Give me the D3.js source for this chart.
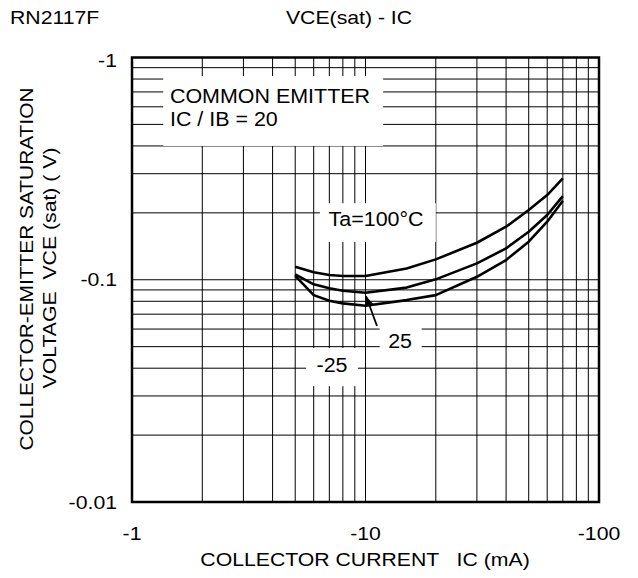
<!DOCTYPE html>
<html>
<head>
<meta charset="utf-8">
<script src="https://cdn.jsdelivr.net/npm/d3@7"></script>
<style>
  body { margin: 0; background: #fff; }
  svg { display: block; font-family: "Liberation Sans", Arial, sans-serif; }
  text { white-space: pre; fill: #000; }
</style>
</head>
<body>
<svg id="chart" width="638" height="578"></svg>
<script>
// ---- data (IC in mA, VCE(sat) in V; both negative for PNP) ----
const currents = [-5, -6, -7, -8, -10, -15, -20, -30, -40, -50, -60, -70];
const vce100 = [-0.1144, -0.1080, -0.1050, -0.1039, -0.1039, -0.1123, -0.1235, -0.1467, -0.1732, -0.2059, -0.2405, -0.2860];
const vce25  = [-0.1057, -0.0954, -0.0915, -0.0892, -0.0874, -0.0922, -0.1004, -0.1185, -0.1384, -0.1644, -0.1955, -0.2380];
const vceM25 = [-0.1042, -0.0853, -0.0804, -0.0783, -0.0764, -0.0810, -0.0853, -0.1031, -0.1227, -0.1483, -0.1824, -0.2267];
const seriesNames = ["Ta=100°C", "25", "-25"];

const xTickValues = [-1, -10, -100];
const xTickLabels = ["-1", "-10", "-100"];
const yTickValues = [-0.01, -0.1, -1];
const yTickLabels = ["-0.01", "-0.1", "-1"];

const titleLeft = "RN2117F";
const titleCenter = "VCE(sat) - IC";
const xTitle = "COLLECTOR CURRENT   IC (mA)";
const yTitle1 = "COLLECTOR-EMITTER SATURATION";
const yTitle2 = "VOLTAGE  VCE (sat) ( V)";

(function () {
// ---- layout ----
const svg = d3.select("#chart");
const pL = 132, pR = 599, pT = 57.5, pB = 502;
const x = d3.scaleLog().domain([-1, -100]).range([pL, pR]);
const y = d3.scaleLog().domain([-0.01, -1]).range([pB, pT]);

// text helper with slight horizontal stretch (reference type is wider)
function txt(parent, tx, ty, s, opt) {
  const o = Object.assign({ size: 18, anchor: "start", sx: 1.18, rot: 0 }, opt || {});
  const g = parent.append("g").attr("transform", `translate(${tx},${ty}) rotate(${o.rot}) scale(${o.sx},1)`);
  g.append("text").attr("text-anchor", o.anchor).attr("font-size", o.size).text(s);
  return g;
}

// grid values
const xGrid = [];
[1, 10].forEach(d => { for (let k = 2; k <= 10; k++) if (!(d === 10 && k === 10)) xGrid.push(-k * d); });
const yGrid = [];
[0.01, 0.1].forEach(d => { for (let k = 2; k <= 10; k++) if (!(d === 0.1 && k === 10)) yGrid.push(-k * d); });

const grid = svg.append("g").attr("stroke", "#000").attr("stroke-width", 1);
grid.selectAll("line.vx").data(xGrid).join("line").attr("class", "vx")
  .attr("x1", d => x(d)).attr("x2", d => x(d)).attr("y1", pT).attr("y2", pB);
grid.selectAll("line.hy").data(yGrid).join("line").attr("class", "hy")
  .attr("y1", d => y(d)).attr("y2", d => y(d)).attr("x1", pL).attr("x2", pR);

// white annotation boxes (in data coordinates)
const boxes = [
  { x0: -1.36, x1: -11.9, y0: -0.825, y1: -0.40 },
  { x0: -6.38, x1: -20.0, y0: -0.221, y1: -0.148 },
  { x0: -11.5, x1: -17.4, y0: -0.0652, y1: -0.0449 },
  { x0: -5.56, x1: -9.29, y0: -0.0493, y1: -0.0332 }
];
svg.append("g").selectAll("rect").data(boxes).join("rect")
  .attr("x", d => x(d.x0)).attr("width", d => x(d.x1) - x(d.x0))
  .attr("y", d => y(d.y0)).attr("height", d => y(d.y1) - y(d.y0))
  .attr("fill", "#fff");

// curves
const line = d3.line().x(d => x(d[0])).y(d => y(d[1]));
const series = [vce100, vce25, vceM25].map(vals => currents.map((c, i) => [c, vals[i]]));
svg.append("g").selectAll("path").data(series).join("path")
  .attr("d", line).attr("fill", "none").attr("stroke", "#000")
  .attr("stroke-width", 2.6).attr("stroke-linejoin", "round");

// frame
svg.append("rect").attr("x", pL).attr("y", pT)
  .attr("width", pR - pL).attr("height", pB - pT)
  .attr("fill", "none").attr("stroke", "#000").attr("stroke-width", 2.5);

// axes tick labels
const gx = svg.append("g");
xTickValues.forEach((v, i) => txt(gx, x(v), 540, xTickLabels[i], { anchor: "middle" }));
const gy = svg.append("g");
yTickValues.forEach((v, i) => txt(gy, 117, y(v) + 6.5 + (i === 2 ? 3 : 0), yTickLabels[i], { anchor: "end" }));

// titles
txt(svg, 10, 24, titleLeft);
txt(svg, 349, 24, titleCenter, { anchor: "middle" });
txt(svg, 365, 566, xTitle, { anchor: "middle" });
txt(svg, 33, 269, yTitle1, { anchor: "middle", rot: -90, sx: 1.16 });
txt(svg, 56, 268, yTitle2, { anchor: "middle", rot: -90 });

// annotations
const ann = svg.append("g");
const ao = { size: 19.5, sx: 1.1 };
txt(ann, x(-1.454), y(-0.621), "COMMON EMITTER", ao);
txt(ann, x(-1.454), y(-0.493), "IC / IB = 20", ao);
txt(ann, x(-11.1), y(-0.1745), seriesNames[0], Object.assign({ anchor: "middle" }, ao));
txt(ann, x(-14.06), y(-0.0493), seriesNames[1], Object.assign({ anchor: "middle" }, ao));
txt(ann, x(-7.19), y(-0.0385), seriesNames[2], Object.assign({ anchor: "middle" }, ao));

// arrow for "25"
const tail = [x(-11.2), y(-0.0619)], tip = [x(-10.05), y(-0.0845)];
svg.append("line").attr("x1", tail[0]).attr("y1", tail[1]).attr("x2", tip[0]).attr("y2", tip[1])
  .attr("stroke", "#000").attr("stroke-width", 1.8);
const ang = Math.atan2(tip[1] - tail[1], tip[0] - tail[0]);
const L = 10, W = 4;
const bx = tip[0] - L * Math.cos(ang), by = tip[1] - L * Math.sin(ang);
svg.append("path")
  .attr("d", `M${tip[0]},${tip[1]} L${bx + W * Math.sin(ang)},${by - W * Math.cos(ang)} L${bx - W * Math.sin(ang)},${by + W * Math.cos(ang)} Z`)
  .attr("fill", "#000");
})();
</script>
</body>
</html>
